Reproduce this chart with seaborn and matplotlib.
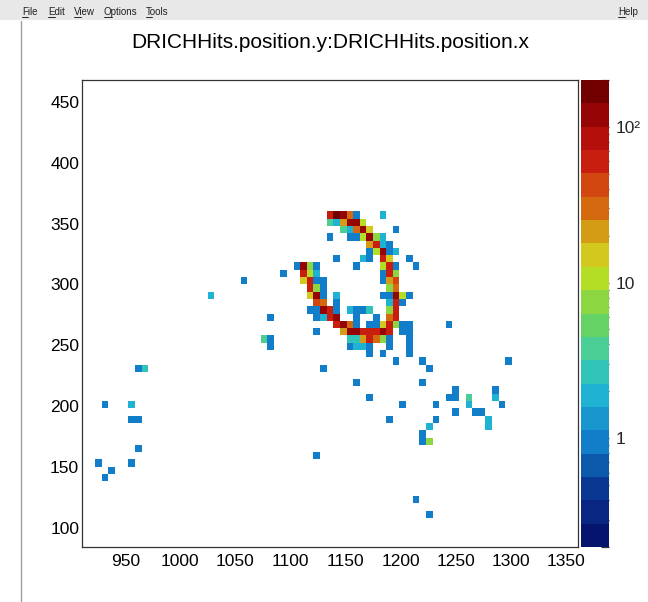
import numpy as np
import pandas as pd
import matplotlib
matplotlib.use("Agg")
import matplotlib.pyplot as plt
import seaborn as sns
from matplotlib.colors import ListedColormap, LogNorm
from matplotlib.ticker import FixedLocator, NullFormatter
from matplotlib.lines import Line2D
from matplotlib.patches import Rectangle

# ---------------- data ----------------
title = "DRICHHits.position.y:DRICHHits.position.x"
x_lo, x_hi, nx = 910.8, 1360.8, 75
y_lo, y_hi, ny = 84.0, 468.0, 64
z_min, z_max = 0.2, 200.0

hit_x = [
    1136, 1142, 1148, 1154, 1160, 1184,
    1136, 1142, 1148, 1154, 1160, 1166,
    1148, 1154, 1160, 1166, 1172, 1196,
    1136, 1154, 1160, 1166, 1172, 1178, 1184,
    1172, 1178, 1184, 1190,
    1172, 1178, 1184, 1190, 1196,
    1142, 1166, 1172, 1184, 1190, 1208,
    1106, 1112, 1118, 1124, 1160, 1184, 1190, 1196, 1214,
    1094, 1112, 1118, 1124, 1184, 1190, 1196,
    1058, 1112, 1118, 1124, 1130, 1184, 1190, 1196,
    1118, 1124, 1130, 1190, 1196,
    1028, 1118, 1124, 1130, 1142, 1184, 1190, 1196, 1202, 1208,
    1124, 1130, 1142, 1190, 1196, 1202,
    1118, 1124, 1130, 1136, 1142, 1154, 1160, 1166, 1172, 1190, 1196,
    1082, 1124, 1130, 1136, 1142, 1160, 1178, 1190, 1196,
    1142, 1148, 1154, 1160, 1172, 1178, 1184, 1190, 1196, 1202, 1208, 1244,
    1124, 1148, 1154, 1160, 1166, 1172, 1178, 1184, 1190, 1202, 1208,
    1076, 1082, 1154, 1160, 1166, 1172, 1178, 1184, 1190, 1208,
    1082, 1154, 1160, 1166, 1172, 1190, 1208,
    1172, 1184, 1208,
    1196, 1220, 1298,
    962, 968, 1130, 1226,
    1160, 1220,
    1250, 1286,
    1172, 1244, 1250, 1262, 1286,
    932, 956, 1202, 1232, 1262, 1292,
    1250, 1268, 1274,
    956, 962, 1190, 1232, 1280,
    1226, 1280,
    1220,
    1220, 1226,
    962,
    1124,
    926, 956,
    938,
    932,
    1214,
    1226,
]
hit_y = [
    357, 357, 357, 357, 357, 357,
    351, 351, 351, 351, 351, 351,
    345, 345, 345, 345, 345, 345,
    339, 339, 339, 339, 339, 339, 339,
    333, 333, 333, 333,
    327, 327, 327, 327, 327,
    321, 321, 321, 321, 321, 321,
    315, 315, 315, 315, 315, 315, 315, 315, 315,
    309, 309, 309, 309, 309, 309, 309,
    303, 303, 303, 303, 303, 303, 303, 303,
    297, 297, 297, 297, 297,
    291, 291, 291, 291, 291, 291, 291, 291, 291, 291,
    285, 285, 285, 285, 285, 285,
    279, 279, 279, 279, 279, 279, 279, 279, 279, 279, 279,
    273, 273, 273, 273, 273, 273, 273, 273, 273,
    267, 267, 267, 267, 267, 267, 267, 267, 267, 267, 267, 267,
    261, 261, 261, 261, 261, 261, 261, 261, 261, 261, 261,
    255, 255, 255, 255, 255, 255, 255, 255, 255, 255,
    249, 249, 249, 249, 249, 249, 249,
    243, 243, 243,
    237, 237, 237,
    231, 231, 231, 231,
    219, 219,
    213, 213,
    207, 207, 207, 207, 207,
    201, 201, 201, 201, 201, 201,
    195, 195, 195,
    189, 189, 189, 189, 189,
    183, 183,
    177,
    171, 171,
    165,
    159,
    153, 153,
    147,
    141,
    123,
    111,
]
hit_n = [
    60, 160, 130, 30, 1, 2,
    4, 2, 22, 120, 110, 10,
    4, 2, 30, 120, 15, 1,
    1, 1, 1, 10, 120, 7, 2,
    22, 65, 2, 1,
    1, 10, 120, 1, 2,
    1, 2, 1, 60, 15, 1,
    1, 120, 7, 1, 1, 10, 60, 1, 1,
    1, 60, 10, 2, 1, 60, 7,
    1, 15, 60, 1, 1, 1, 22, 40,
    60, 7, 1, 7, 30,
    2, 15, 120, 1, 2, 1, 1, 120, 10, 1,
    45, 30, 1, 2, 60, 1,
    1, 1, 120, 60, 1, 2, 1, 1, 3, 7, 60,
    1, 1, 2, 60, 120, 1, 1, 30, 60,
    60, 120, 30, 1, 1, 1, 15, 60, 7, 1, 1, 1,
    1, 22, 120, 120, 60, 60, 60, 120, 60, 1, 1,
    4, 1, 3, 3, 22, 60, 30, 7, 1, 1,
    1, 1, 2, 2, 1, 1, 1,
    1, 1, 1,
    1, 1, 1,
    1, 3, 1, 1,
    1, 1,
    1, 1,
    1, 1, 1, 4, 2,
    1, 2, 1, 1, 2, 1,
    1, 1, 1,
    1, 1, 1, 1, 2,
    2, 2,
    1,
    1, 8,
    1,
    1,
    1, 1,
    1,
    1,
    1,
    1,
]

x_ticks = [950, 1000, 1050, 1100, 1150, 1200, 1250, 1300, 1350]
y_ticks = [100, 150, 200, 250, 300, 350, 400, 450]
z_ticks = [1, 10, 100]
z_labels = ["1", "10", "10\u00b2"]
menu_items = ["File", "Edit", "View", "Options", "Tools"]
menu_x = [22, 48, 74, 104, 146]

palette = [
    "#05156e", "#082682", "#0a3791", "#0c58aa", "#127dc8",
    "#1896cd", "#20b2d2", "#30c4b9", "#4bcd96", "#64d264",
    "#8cd741", "#b4de26", "#d2c81e", "#d49b14", "#d4690f",
    "#d2460f", "#c81e0f", "#b40f0a", "#960505", "#730000",
]

# ---------------- figure ----------------
sns.set_theme(style="white")
plt.rcParams["font.family"] = ["Liberation Sans", "DejaVu Sans"]

W, H = 648, 602
fig = plt.figure(figsize=(W / 100, H / 100), dpi=100)
fig.patch.set_facecolor("white")

# menu bar
fig.add_artist(Rectangle((0, 1 - 20 / H), 1, 20 / H, transform=fig.transFigure,
                         facecolor="#e8e8e8", edgecolor="none"))
renderer = fig.canvas.get_renderer()
for lab, px in zip(menu_items + ["Help"], menu_x + [618]):
    t = fig.text(px / W, 1 - 12 / H, lab, fontsize=7, ha="left", va="center", color="#222222")
    # underline the first (mnemonic) letter
    first = fig.text(px / W, 1 - 12 / H, lab[0], fontsize=7, ha="left", va="center", alpha=0)
    bb = first.get_window_extent(renderer=renderer)
    fig.add_artist(Line2D([bb.x0 / W, bb.x1 / W], [1 - 17 / H, 1 - 17 / H],
                          transform=fig.transFigure, color="#222222", lw=0.7))
# canvas border
fig.add_artist(Line2D([20.5 / W, 20.5 / W], [1 - 21 / H, 0], transform=fig.transFigure,
                      color="#a0a0a0", lw=1))

cmap = ListedColormap(palette)

ax = fig.add_axes([82 / W, 1 - 547 / H, 496 / W, 467 / H])
cax = fig.add_axes([581 / W, 1 - 547 / H, 28 / W, 467 / H])

df = pd.DataFrame({"x": hit_x, "y": hit_y, "n": hit_n})
x_edges = np.linspace(x_lo, x_hi, nx + 1)
y_edges = np.linspace(y_lo, y_hi, ny + 1)
sns.histplot(data=df, x="x", y="y", weights="n", bins=[x_edges, y_edges],
             cmap=cmap, ax=ax, cbar=False)
mesh = ax.collections[0]
mesh.set_norm(LogNorm(vmin=z_min, vmax=z_max))
mesh.set_cmap(cmap)

ax.set_xlim(x_lo, x_hi)
ax.set_ylim(y_lo, y_hi)
ax.set_xlabel("")
ax.set_ylabel("")
ax.set_facecolor("white")
for s in ax.spines.values():
    s.set_color("#333333")
    s.set_linewidth(0.9)

ax.xaxis.set_major_locator(FixedLocator(x_ticks))
ax.yaxis.set_major_locator(FixedLocator(y_ticks))
ax.xaxis.set_minor_locator(FixedLocator(np.arange(920, 1361, 10)))
ax.yaxis.set_minor_locator(FixedLocator(np.arange(90, 468, 10)))
ax.tick_params(axis="both", which="both", direction="in", top=False, right=False,
               color="#333333", width=0.9, labelsize=12.5, labelcolor="black")
ax.tick_params(axis="both", which="major", length=10)
ax.tick_params(axis="both", which="minor", length=5)
ax.tick_params(axis="x", which="major", pad=5)
ax.tick_params(axis="y", which="major", pad=2)

cb = fig.colorbar(mesh, cax=cax)
cb.outline.set_visible(False)
cb.set_ticks(z_ticks, labels=z_labels)
minors = [v * d for d in (0.1, 1, 10, 100) for v in range(2, 10)]
minors = [m for m in minors if z_min <= m <= z_max]
cax.yaxis.set_minor_locator(FixedLocator(minors))
cax.yaxis.set_minor_formatter(NullFormatter())
cax.yaxis.set_ticks_position("right")
cax.tick_params(axis="y", which="both", direction="in", color="#333333", width=0.9,
                labelsize=12.5, pad=5)
cax.tick_params(axis="y", which="major", length=10)
cax.tick_params(axis="y", which="minor", length=5.5)

fig.text(330 / W, 1 - 42 / H, title, ha="center", va="center", fontsize=15, color="black")

fig.savefig("out.png", dpi=100)
